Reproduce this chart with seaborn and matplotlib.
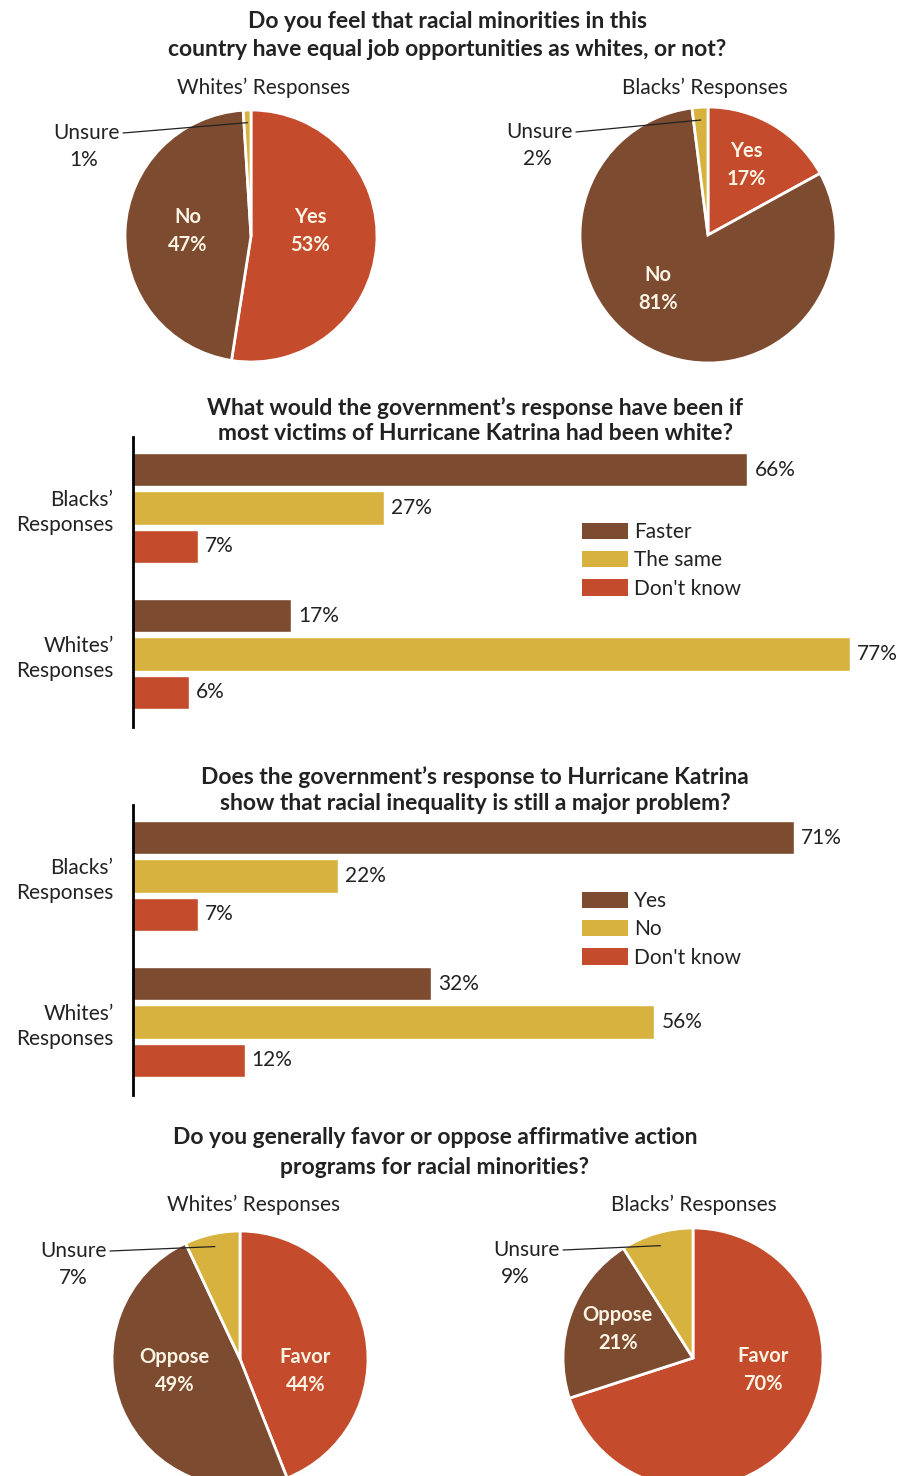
import numpy as np
import pandas as pd
import seaborn as sns
import matplotlib.pyplot as plt
from matplotlib.patches import Patch

# Data
job_labels = ["Yes", "No", "Unsure"]
job_whites = [53, 47, 1]
job_blacks = [17, 81, 2]

groups = ["Blacks’ Responses", "Whites’ Responses"]

katrina_answers = ["Faster", "The same", "Don't know"]
katrina_blacks = [66, 27, 7]
katrina_whites = [17, 77, 6]

problem_answers = ["Yes", "No", "Don't know"]
problem_blacks = [71, 22, 7]
problem_whites = [32, 56, 12]

aa_labels = ["Favor", "Oppose", "Unsure"]
aa_whites = [44, 49, 7]
aa_blacks = [70, 21, 9]

BROWN = "#7d4b30"
RED = "#c44c2d"
GOLD = "#d8b23e"
CREAM = "#fbf3e3"
INK = "#222222"

W, H = 901, 1476
SCALE = 9.31  # px per percent on the bar charts
FS = 15
TFS = 16.5

sns.set_theme(style="white")
plt.rcParams["font.family"] = ["Lato", "DejaVu Sans"]

fig = plt.figure(figsize=(W / 100, H / 100), dpi=100)


def box(x0, y0, x1, y1):
    return [x0 / W, 1 - y1 / H, (x1 - x0) / W, (y1 - y0) / H]


ov = fig.add_axes([0, 0, 1, 1])
ov.set_xlim(0, W)
ov.set_ylim(H, 0)
ov.axis("off")
ov.set_zorder(10)


def title(lines, x, ys):
    for line, y in zip(lines, ys):
        ov.text(x, y, line, ha="center", va="center", fontsize=TFS,
                fontweight="bold", color=INK)


def pie(values, labels, cx, cy, r, spots, unsure_xy, pct_x, heading_xy, heading):
    ax = fig.add_axes(box(cx - r, cy - r, cx + r, cy + r))
    wedges, _ = ax.pie(values, colors=[RED, BROWN, GOLD], startangle=90,
                       counterclock=False,
                       wedgeprops=dict(edgecolor="white", linewidth=2))
    ax.set_xlim(-1, 1)
    ax.set_ylim(-1, 1)
    ax.set_aspect("auto")
    ax.axis("off")
    step = 14 / r
    for (dx, dy), lab, v in zip(spots, labels[:2], values[:2]):
        ax.text(dx, dy + step, lab, ha="center", va="center", color=CREAM,
                fontsize=14.5, fontweight="bold")
        ax.text(dx, dy - step, f"{v}%", ha="center", va="center", color=CREAM,
                fontsize=14.5, fontweight="bold")
    # leader line to the small "Unsure" slice
    w = wedges[2]
    th = np.deg2rad((w.theta1 + w.theta2) / 2)
    px = cx + 0.9 * r * np.cos(th)
    py = cy - 0.9 * r * np.sin(th)
    tx, ty = unsure_xy
    ov.plot([tx + 3, px], [ty, py], color=INK, lw=0.9)
    ov.text(tx, ty, labels[2], ha="right", va="center", fontsize=FS, color=INK)
    ov.text(pct_x, ty + 27, f"{values[2]}%", ha="center", va="center",
            fontsize=FS, color=INK)
    ov.text(heading_xy[0], heading_xy[1], heading, ha="center", va="center",
            fontsize=FS, color=INK)


def bars(blacks, whites, answers, top, bottom, legend_top):
    df = pd.DataFrame({
        "group": np.repeat(groups, len(answers)),
        "answer": answers * 2,
        "value": blacks + whites,
    })
    ax = fig.add_axes(box(133, top, 133 + 82 * SCALE, bottom))
    sns.barplot(data=df, x="value", y="group", hue="answer", order=groups,
                hue_order=answers, palette=[BROWN, GOLD, RED], orient="h",
                width=0.79, gap=0.12, saturation=1, errorbar=None,
                legend=False, ax=ax)
    ax.set_xlim(0, 82)
    ax.set_ylim(1.5, -0.486)
    for cont, lvl in zip(ax.containers, answers):
        vals = df.loc[df["answer"] == lvl, "value"].tolist()
        ax.bar_label(cont, labels=[f"{v}%" for v in vals], padding=5,
                     fontsize=FS, color=INK)
    ax.set_xticks([])
    ax.set_xlabel("")
    ax.set_ylabel("")
    ax.set_yticks([0, 1])
    ax.set_yticklabels([g.replace(" ", "\n") for g in groups], fontsize=FS,
                       color=INK, linespacing=1.3)
    ax.tick_params(axis="y", length=0, pad=14)
    sns.despine(ax=ax, bottom=True)
    ax.spines["left"].set_color("black")
    ax.spines["left"].set_linewidth(2)
    handles = [Patch(facecolor=c, edgecolor="none") for c in [BROWN, GOLD, RED]]
    fs_px = FS * 100 / 72
    ax.legend(handles, answers, loc="upper left",
              bbox_to_anchor=(582 / W, 1 - legend_top / H),
              bbox_transform=fig.transFigure, frameon=False, fontsize=FS,
              borderpad=0, borderaxespad=0, handlelength=46 / fs_px,
              handleheight=17 / fs_px, handletextpad=0.3, labelspacing=0.4,
              labelcolor=INK)


# 1. equal job opportunities
title(["Do you feel that racial minorities in this",
       "country have equal job opportunities as whites, or not?"], 447, [22, 50])
pie(job_whites, job_labels, 251, 236, 126,
    [(0.47, 0.04), (-0.50, 0.04)], (120, 133), 84, (264, 88), "Whites’ Responses")
pie(job_blacks, job_labels, 708, 235, 128,
    [(0.30, 0.55), (-0.39, -0.42)], (573, 132), 537, (705, 88), "Blacks’ Responses")

# 2. Katrina response
title(["What would the government’s response have been if",
       "most victims of Hurricane Katrina had been white?"], 475, [408, 434])
bars(katrina_blacks, katrina_whites, katrina_answers, 437, 727, 522)

# 3. racial inequality
title(["Does the government’s response to Hurricane Katrina",
       "show that racial inequality is still a major problem?"], 475, [777, 803])
bars(problem_blacks, problem_whites, problem_answers, 805, 1095, 891)

# 4. affirmative action
title(["Do you generally favor or oppose affirmative action",
       "programs for racial minorities?"], 435, [1137, 1167])
pie(aa_whites, aa_labels, 240, 1359, 128,
    [(0.51, -0.09), (-0.51, -0.09)], (107, 1251), 73, (254, 1205), "Whites’ Responses")
pie(aa_blacks, aa_labels, 693, 1358, 130,
    [(0.54, -0.09), (-0.58, 0.22)], (560, 1250), 515, (694, 1205), "Blacks’ Responses")

fig.savefig("out.png", dpi=100, facecolor="white")
